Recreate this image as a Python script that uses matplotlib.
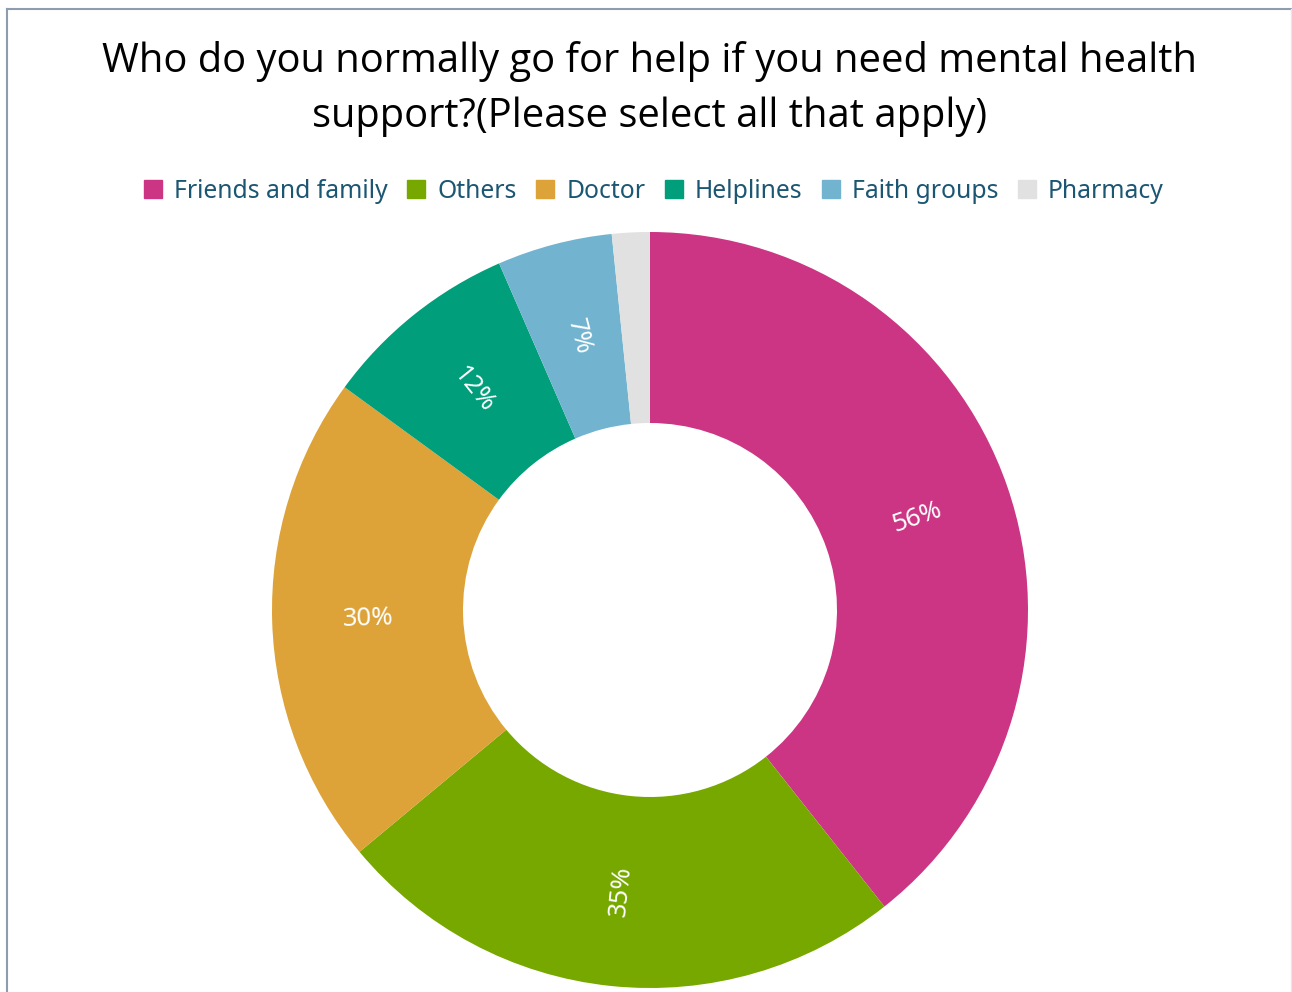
import numpy as np
import matplotlib
matplotlib.use("Agg")
import matplotlib.pyplot as plt
from matplotlib.lines import Line2D

# survey answers (percent of respondents, multiple choice)
labels = ["Friends and family", "Others", "Doctor", "Helplines", "Faith groups", "Pharmacy"]
values = [56, 35, 30, 12, 7, 2.3]
shown = ["56%", "35%", "30%", "12%", "7%", ""]
colors = ["#CC3584", "#76A800", "#DDA238", "#009E7A", "#72B4D0", "#E1E1E1"]

title = "Who do you normally go for help if you need mental health\nsupport?(Please select all that apply)"

W, H = 1292, 992
fig = plt.figure(figsize=(W / 100, H / 100), dpi=100)
ax = fig.add_axes([0, 0, 1, 1])

cx, cy = 650, H - 610
r_out, r_in = 378, 187

wedges, _ = ax.pie(values, colors=colors, startangle=90, counterclock=False,
                   radius=r_out, center=(cx, cy),
                   wedgeprops=dict(width=r_out - r_in, linewidth=0))

# percentage labels sit mid-ring, turned along the radius
r_mid = (r_out + r_in) / 2
for w, txt in zip(wedges, shown):
    if not txt:
        continue
    ang = (w.theta1 + w.theta2) / 2
    x = cx + r_mid * np.cos(np.radians(ang))
    y = cy + r_mid * np.sin(np.radians(ang))
    rot = (ang + 180) % 360 - 180
    if rot > 90:
        rot -= 180
    elif rot <= -90:
        rot += 180
    ax.text(x, y, txt, color="white", fontsize=18.5, family="Noto Sans",
            rotation=rot, rotation_mode="anchor", ha="center", va="center")

ax.set_xlim(0, W)
ax.set_ylim(0, H)
ax.set_aspect("auto")
ax.axis("off")

fig.text(650 / W, 1 - 89 / H, title, ha="center", va="center", fontsize=28.7,
         family="Open Sans", color="black", linespacing=1.5)

handles = [plt.Rectangle((0, 0), 1, 1, color=c) for c in colors]
fig.legend(handles, labels, loc="center", bbox_to_anchor=(654 / W, 1 - 191 / H),
           ncol=6, frameon=False, handlelength=0.72, handleheight=0.72,
           handletextpad=0.5, columnspacing=0.78,
           prop=dict(family="Noto Sans", size=17.8), labelcolor="#1B5673")

# thin frame round the chart
fig.add_artist(Line2D([7 / W, 1291 / W], [1 - 9 / H, 1 - 9 / H], color="#8C9DB0", lw=1.5))
fig.add_artist(Line2D([7 / W, 7 / W], [0, 1 - 9 / H], color="#8C9DB0", lw=1.5))
fig.add_artist(Line2D([1290.5 / W, 1290.5 / W], [0, 1 - 9 / H], color="#E4E8EC", lw=1))

fig.savefig("out.png", dpi=100, facecolor="white")
